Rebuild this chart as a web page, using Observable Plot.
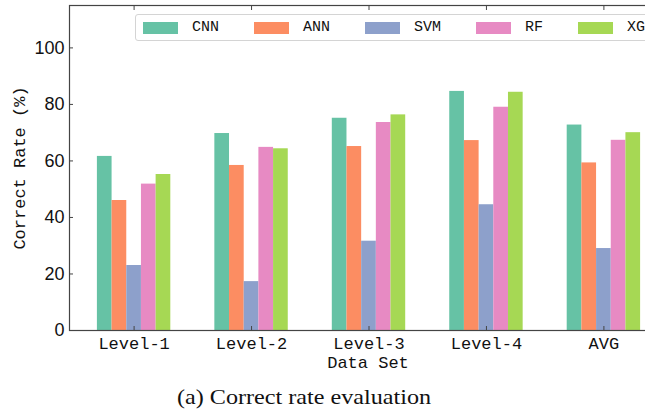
<!DOCTYPE html>
<html>
<head>
<meta charset="utf-8">
<script src="https://cdn.jsdelivr.net/npm/d3@7"></script>
<script src="https://cdn.jsdelivr.net/npm/@observablehq/plot@0.6"></script>
<style>
  html, body { margin: 0; padding: 0; background: #fff; overflow: hidden; }
  #wrap { position: relative; width: 645px; height: 412px; overflow: hidden; background: #fff; }
  #wrap svg { max-width: none !important; position: absolute; left: 0; top: 0; }
  .ylab { position: absolute; left: 20px; top: 168px; transform: translate(-50%, -50%) rotate(-90deg);
          font-family: "Liberation Mono", monospace; font-size: 17px; color: #111; white-space: nowrap; }
  .xlab { position: absolute; left: 368px; top: 363px; transform: translate(-50%, -50%);
          font-family: "Liberation Mono", monospace; font-size: 17px; color: #111; white-space: nowrap; }
  .caption { position: absolute; left: 304px; top: 397px; transform: translate(-50%, -50%) scaleX(1.15);
          font-family: "Liberation Serif", "Times New Roman", serif; font-size: 21px; color: #111; white-space: nowrap; }
  .legend { position: absolute; left: 135px; top: 14px; width: 560px; height: 27px; box-sizing: border-box;
            border: 1px solid #d4d4d4; border-radius: 3px; background: rgba(255,255,255,0.85);
            display: flex; align-items: center; padding-left: 7px; }
  .legend .item { display: inline-flex; align-items: center; margin-right: 35px; }
  .legend .sw { width: 35px; height: 12px; margin-right: 14px; }
  .legend .tx { font-family: "Liberation Mono", monospace; font-size: 15px; color: #111; }
</style>
</head>
<body>
<div id="wrap"></div>
<script>
const datasets = ["Level-1", "Level-2", "Level-3", "Level-4", "AVG"];
const models = ["CNN", "ANN", "SVM", "RF", "XGB"];
const colors = ["#66c2a5", "#fc8d62", "#8da0cb", "#e78ac3", "#a6d854"];
const CNN = [61.6, 69.7, 75.1, 84.6, 72.7];
const ANN = [46.0, 58.4, 65.1, 67.2, 59.3];
const SVM = [23.0, 17.3, 31.6, 44.5, 29.0];
const RF  = [51.8, 64.8, 73.6, 79.0, 67.3];
const XGB = [55.2, 64.3, 76.3, 84.3, 70.0];
const yTicks = [0, 20, 40, 60, 80, 100];
const yLabel = "Correct Rate (%)";
const xLabel = "Data Set";
const captionText = "(a) Correct rate evaluation";

const series = [CNN, ANN, SVM, RF, XGB];
const barW = 0.125;
const rows = [];
series.forEach((vals, m) => vals.forEach((v, g) => rows.push({g, m, model: models[m], value: v})));
const groupIdx = datasets.map((d, i) => i);

const chart = Plot.plot({
  width: 680,
  height: 372,
  marginLeft: 69,
  marginRight: 12,
  marginTop: 5,
  marginBottom: 42,
  x: {type: "linear", domain: [-0.55, datasets.length - 0.45], axis: null},
  y: {domain: [0, 115], axis: null},
  color: {domain: models, range: colors},
  marks: [
    Plot.rectY(rows, {
      x1: d => d.g + (d.m - models.length / 2) * barW,
      x2: d => d.g + (d.m - models.length / 2 + 1) * barW,
      y: "value",
      fill: "model"
    }),
    Plot.frame({stroke: "#444", strokeWidth: 1.2}),
    Plot.axisX({anchor: "bottom", ticks: groupIdx, tickSize: -4, tickFormat: () => "", stroke: "#444", label: null}),
    Plot.axisX({anchor: "top", ticks: groupIdx, tickSize: -4, tickFormat: () => "", stroke: "#444", label: null}),
    Plot.axisX({anchor: "bottom", ticks: groupIdx, tickSize: 0, tickPadding: 6, tickFormat: i => datasets[i],
                fontFamily: "Liberation Mono, monospace", fontSize: 17, fill: "#111", label: null}),
    Plot.axisY({anchor: "left", ticks: yTicks, tickSize: -4, tickFormat: () => "", stroke: "#444", label: null}),
    Plot.axisY({anchor: "right", ticks: yTicks, tickSize: -4, tickFormat: () => "", stroke: "#444", label: null}),
    Plot.axisY({anchor: "left", ticks: yTicks, tickSize: 0, tickPadding: 5, tickFormat: d => String(d),
                fontFamily: "Liberation Sans, Arial, sans-serif", fontSize: 18, fill: "#111", label: null})
  ]
});

const wrap = document.getElementById("wrap");
wrap.appendChild(chart);

const yl = document.createElement("div"); yl.className = "ylab"; yl.textContent = yLabel; wrap.appendChild(yl);
const xl = document.createElement("div"); xl.className = "xlab"; xl.textContent = xLabel; wrap.appendChild(xl);
const cap = document.createElement("div"); cap.className = "caption"; cap.textContent = captionText; wrap.appendChild(cap);

const legend = d3.select(wrap).append("div").attr("class", "legend");
const items = legend.selectAll(".item").data(models).join("div").attr("class", "item");
items.append("div").attr("class", "sw").style("background", (d, i) => colors[i]);
items.append("span").attr("class", "tx").text(d => d);
</script>
</body>
</html>
